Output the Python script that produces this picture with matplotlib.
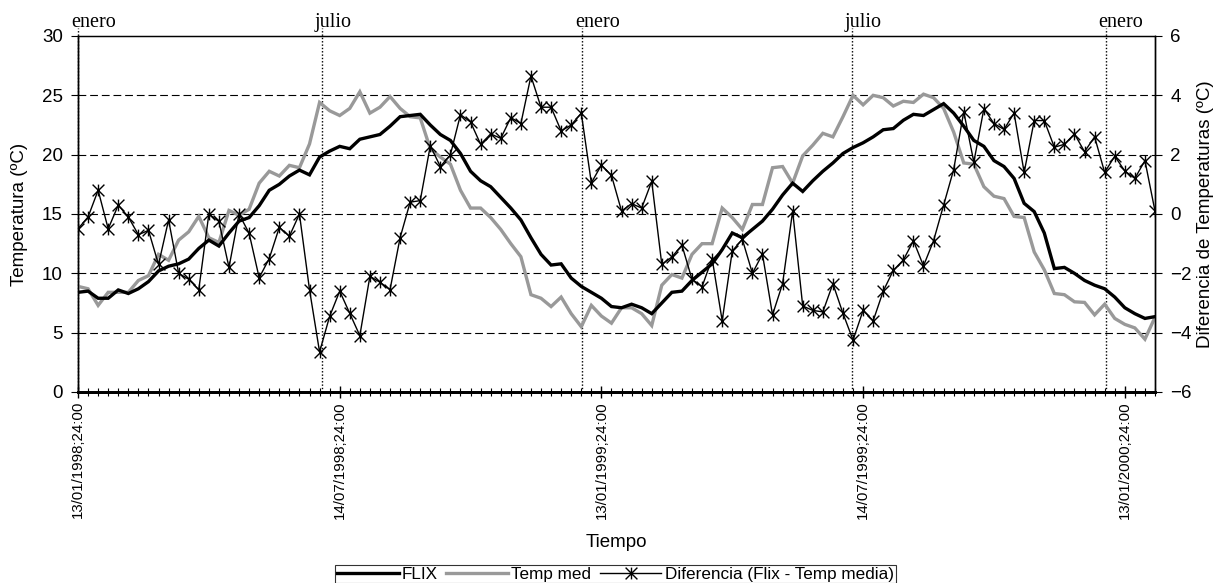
import matplotlib
matplotlib.use("Agg")
import matplotlib.pyplot as plt
from matplotlib.path import Path
from matplotlib.lines import Line2D
from matplotlib.ticker import FixedLocator, MultipleLocator

# ---- data (weekly samples) ----
flix = [8.4, 8.5, 7.9, 7.9, 8.6, 8.3, 8.7, 9.3, 10.2, 10.6,
        10.8, 11.2, 12.1, 12.8, 12.3, 13.4, 14.4, 14.7, 15.7, 17.0,
        17.5, 18.2, 18.7, 18.3, 19.8, 20.3, 20.7, 20.5, 21.3, 21.5,
        21.7, 22.4, 23.2, 23.3, 23.4, 22.5, 21.7, 21.2, 20.1, 18.6,
        17.8, 17.3, 16.4, 15.5, 14.5, 13.0, 11.6, 10.7, 10.8, 9.6,
        8.9, 8.4, 7.9, 7.2, 7.1, 7.4, 7.1, 6.6, 7.5, 8.4,
        8.5, 9.4, 10.1, 10.8, 12.0, 13.4, 13.0, 13.7, 14.4, 15.4,
        16.6, 17.6, 16.9, 17.8, 18.6, 19.3, 20.1, 20.6, 21.0, 21.5,
        22.1, 22.2, 22.9, 23.4, 23.3, 23.8, 24.3, 23.5, 22.4, 21.2,
        20.7, 19.5, 19.0, 18.0, 15.9, 15.2, 13.4, 10.4, 10.5, 10.0,
        9.4, 9.0, 8.7, 8.0, 7.1, 6.6, 6.2, 6.35]

temp_med = [8.9, 8.7, 7.3, 8.4, 8.4, 8.4, 9.4, 9.8, 11.6, 11.1,
            12.8, 13.5, 14.8, 13.0, 12.6, 15.3, 14.9, 15.4, 17.6, 18.6,
            18.2, 19.1, 18.9, 20.9, 24.4, 23.7, 23.3, 23.9, 25.3, 23.5,
            24.0, 24.9, 23.9, 23.2, 23.1, 20.5, 19.8, 19.2, 17.0, 15.5,
            15.5, 14.7, 13.7, 12.5, 11.4, 8.2, 7.9, 7.2, 8.0, 6.6,
            5.5, 7.3, 6.4, 5.8, 7.1, 7.1, 6.6, 5.6, 9.0, 9.9,
            9.6, 11.6, 12.5, 12.5, 15.5, 14.7, 13.7, 15.8, 15.8, 18.9,
            19.0, 17.6, 19.9, 20.8, 21.8, 21.5, 23.2, 25.0, 24.2, 25.0,
            24.8, 24.1, 24.5, 24.4, 25.1, 24.8, 23.9, 21.9, 19.3, 19.2,
            17.3, 16.5, 16.3, 14.8, 14.7, 11.8, 10.3, 8.3, 8.2, 7.6,
            7.55, 6.5, 7.4, 6.2, 5.7, 5.4, 4.45, 6.3]

diferencia = [-0.5, -0.1, 0.8, -0.5, 0.3, -0.1, -0.7, -0.55, -1.7, -0.2,
              -2.0, -2.2, -2.55, 0.0, -0.25, -1.8, 0.0, -0.65, -2.15, -1.5,
              -0.45, -0.75, 0.0, -2.55, -4.65, -3.45, -2.6, -3.35, -4.1, -2.1,
              -2.3, -2.55, -0.8, 0.4, 0.45, 2.3, 1.6, 2.0, 3.35, 3.1,
              2.35, 2.7, 2.55, 3.25, 3.05, 4.65, 3.6, 3.6, 2.8, 3.0,
              3.4, 1.05, 1.65, 1.3, 0.1, 0.35, 0.2, 1.1, -1.7, -1.45,
              -1.05, -2.2, -2.45, -1.5, -3.6, -1.25, -0.85, -2.0, -1.35, -3.4,
              -2.35, 0.1, -3.1, -3.25, -3.3, -2.35, -3.35, -4.25, -3.25, -3.6,
              -2.6, -1.9, -1.55, -0.9, -1.75, -0.9, 0.3, 1.5, 3.45, 1.75,
              3.55, 3.05, 2.85, 3.4, 1.4, 3.15, 3.15, 2.25, 2.35, 2.7,
              2.1, 2.6, 1.4, 1.95, 1.45, 1.2, 1.8, 0.1]

date_labels = ["13/01/1998;24:00", "14/07/1998;24:00", "13/01/1999;24:00",
               "14/07/1999;24:00", "13/01/2000;24:00"]
date_label_pos = [0, 26, 52, 78, 104]

month_names = ["enero", "julio", "enero", "julio", "enero"]
month_pos = [0, 24.2, 50.1, 76.85, 102.1]

x = list(range(len(flix)))

plt.rcParams["font.family"] = ["Liberation Sans", "DejaVu Sans"]

W, H = 1226, 583
fig = plt.figure(figsize=(W / 100, H / 100), dpi=100)
ax = fig.add_axes([78 / W, 1 - 392 / H, (1155 - 78) / W, (392 - 36) / H])
ax2 = ax.twinx()

gray = "#999999"

# horizontal dashed grid on the temperature axis
for v in [5, 10, 15, 20, 25]:
    ax.axhline(v, color="black", lw=0.8, linestyle=(0, (7, 3.5)), zorder=1)

# month markers (dotted vertical lines + labels)
for name, pos in zip(month_names, month_pos):
    ax.plot([pos, pos], [0, 30.65], color="black", lw=1.0,
            linestyle=(0, (1, 1.4)), clip_on=False, zorder=2)
    ax.annotate(name, xy=(pos, 30), xycoords="data",
                xytext=(-5, 6.5), textcoords="offset points",
                ha="left", va="baseline", fontsize=14.5,
                family=["Liberation Serif", "DejaVu Serif"], annotation_clip=False)

l_flix, = ax.plot(x, flix, color="black", lw=2.4, zorder=4, solid_joinstyle="miter")
l_temp, = ax.plot(x, temp_med, color=gray, lw=2.4, zorder=3, solid_joinstyle="miter")

star = Path([(-1, -1), (1, 1), (-1, 1), (1, -1), (0, -1), (0, 1)],
            [Path.MOVETO, Path.LINETO, Path.MOVETO, Path.LINETO,
             Path.MOVETO, Path.LINETO])
l_dif, = ax2.plot(x, diferencia, color="black", lw=1.0, marker=star,
                  markersize=8.5, markeredgewidth=1.0, markerfacecolor="none",
                  markeredgecolor="black", zorder=5)

ax.set_xlim(0, len(flix) - 1)
ax.set_ylim(0, 30)
ax2.set_ylim(-6, 6)
ax.set_yticks(range(0, 31, 5))
ax2.set_yticks(range(-6, 7, 2))

ax.xaxis.set_major_locator(FixedLocator(date_label_pos))
ax.set_xticklabels(date_labels, rotation=90, fontsize=10.8)
ax.xaxis.set_minor_locator(MultipleLocator(1))
ax.tick_params(axis="x", which="major", direction="inout", length=9, width=1.0, pad=2)
ax.tick_params(axis="x", which="minor", direction="inout", length=6, width=0.8)
ax.tick_params(axis="y", direction="out", length=5, width=0.8, labelsize=13.5, pad=6)
ax2.tick_params(axis="y", direction="out", length=5, width=0.8, labelsize=13.5, pad=6)

for a in (ax, ax2):
    a.spines["top"].set_linewidth(0.9)
    a.spines["left"].set_linewidth(1.0)
    a.spines["right"].set_linewidth(1.0)
    a.spines["bottom"].set_linewidth(2.0)

ax.set_ylabel("Temperatura (ºC)", fontsize=13.5, labelpad=10)
ax2.set_ylabel("Diferencia de Temperaturas (ºC)", fontsize=13.5, labelpad=4)
ax.set_xlabel("Tiempo", fontsize=13.5, labelpad=11)

handles = [Line2D([], [], color="black", lw=2.4),
           Line2D([], [], color=gray, lw=2.4),
           Line2D([], [], color="black", lw=1.0, marker=star, markersize=8.5,
                  markerfacecolor="none", markeredgecolor="black")]
leg = fig.legend(handles, ["FLIX", "Temp med", "Diferencia (Flix - Temp media)"],
                 loc="upper center", bbox_to_anchor=(0.502, 1 - 565 / H),
                 ncol=3, fontsize=12.3, frameon=True, fancybox=False,
                 edgecolor="black", handlelength=3.6, handletextpad=0.2,
                 columnspacing=0.5, borderpad=0.1, borderaxespad=0)
leg.get_frame().set_linewidth(0.8)

fig.savefig("out.png", dpi=100)
